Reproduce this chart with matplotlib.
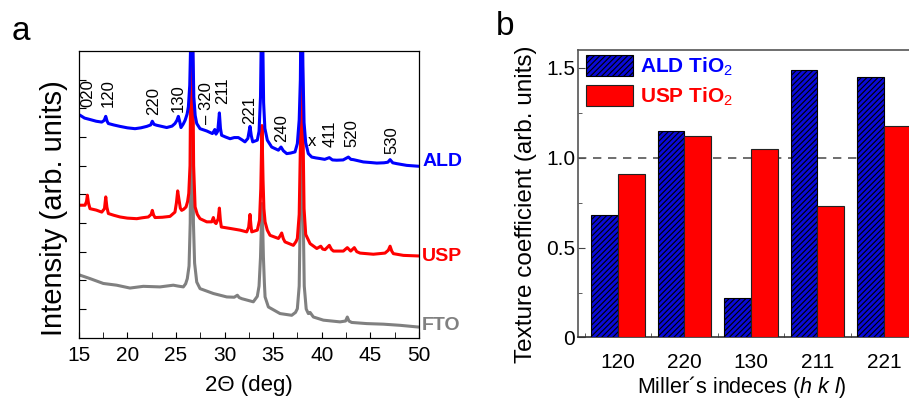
import matplotlib
matplotlib.use("Agg")
import matplotlib.pyplot as plt
import numpy as np

plt.rcParams['font.family'] = ['Liberation Sans', 'DejaVu Sans']
plt.rcParams['mathtext.fontset'] = 'custom'
plt.rcParams['mathtext.rm'] = 'Liberation Sans'
plt.rcParams['mathtext.it'] = 'Liberation Sans:italic'
plt.rcParams['mathtext.bf'] = 'Liberation Sans:bold'
plt.rcParams['hatch.linewidth'] = 0.8

# ---- panel a: XRD patterns (2theta in deg, intensity in arb. units) ----
ald_2theta = [15.00, 15.13, 15.60, 16.16, 16.80, 17.37, 17.62, 17.78, 17.92, 18.05, 18.60, 19.25,
              20.00, 20.79, 21.40, 22.00, 22.40, 22.57, 22.75, 23.02, 24.05, 24.60, 24.90, 25.10,
              25.25, 25.38, 25.52, 25.75, 25.94, 26.15, 26.28, 26.42, 26.53, 26.63, 26.73, 26.84,
              26.98, 27.14, 27.48, 28.17, 28.75, 28.90, 29.00, 29.12, 29.30, 29.47, 29.58, 29.70,
              30.10, 30.57, 31.00, 31.42, 31.80, 32.10, 32.40, 32.62, 32.75, 32.90, 33.37, 33.55,
              33.70, 33.78, 33.85, 33.93, 34.02, 34.15, 34.40, 34.85, 35.54, 35.81, 36.05, 36.40,
              36.80, 37.25, 37.49, 37.68, 37.80, 37.94, 38.06, 38.18, 38.35, 38.62, 38.97, 39.40,
              39.80, 40.30, 40.78, 41.10, 41.54, 42.20, 42.74, 43.00, 43.25, 44.28, 45.00, 45.66,
              46.40, 46.80, 47.03, 47.30, 47.72, 48.74, 49.94, 50.00]
ald_int = [7.78, 7.76, 7.66, 7.61, 7.55, 7.52, 7.58, 7.72, 7.55, 7.47, 7.42, 7.37,
           7.32, 7.29, 7.32, 7.37, 7.42, 7.55, 7.44, 7.41, 7.33, 7.38, 7.47, 7.58,
           7.72, 7.55, 7.33, 7.45, 7.58, 7.80, 8.05, 8.80, 10.5, 14.0, 10.5, 8.40,
           7.75, 7.47, 7.29, 7.21, 7.12, 7.20, 7.26, 7.10, 7.20, 7.84, 7.30, 7.06,
           7.00, 6.94, 6.98, 6.98, 6.90, 6.83, 6.95, 7.37, 7.05, 6.83, 6.89, 7.20,
           8.40, 10.5, 14.0, 10.5, 8.20, 7.30, 6.89, 6.65, 6.54, 6.65, 6.52, 6.42,
           6.44, 6.48, 6.77, 7.60, 9.00, 14.0, 9.50, 7.50, 6.80, 6.42, 6.30, 6.27,
           6.25, 6.22, 6.28, 6.20, 6.19, 6.20, 6.30, 6.22, 6.21, 6.13, 6.11, 6.09,
           6.10, 6.12, 6.21, 6.10, 6.07, 6.01, 5.98, 5.98]

usp_2theta = [15.00, 15.13, 15.65, 15.80, 15.89, 16.00, 16.16, 16.80, 17.37, 17.65, 17.78, 17.90,
              18.05, 18.60, 19.25, 20.00, 20.97, 21.50, 22.16, 22.45, 22.57, 22.70, 22.85, 23.60,
              24.39, 24.90, 25.05, 25.18, 25.32, 25.45, 25.59, 25.80, 26.04, 26.20, 26.32, 26.45,
              26.53, 26.63, 26.73, 26.82, 26.97, 27.20, 27.48, 28.17, 28.68, 28.85, 29.00, 29.13,
              29.35, 29.47, 29.57, 29.67, 30.57, 31.60, 32.28, 32.48, 32.62, 32.72, 32.80, 33.37,
              33.60, 33.73, 33.85, 33.96, 34.05, 34.17, 34.40, 34.68, 35.54, 35.72, 35.88, 36.05,
              36.22, 37.08, 37.35, 37.49, 37.68, 37.82, 37.94, 38.06, 38.18, 38.35, 38.80, 39.49,
              39.90, 40.10, 40.34, 40.78, 41.00, 41.20, 42.22, 42.63, 42.98, 43.35, 43.60, 43.94,
              45.31, 46.51, 46.85, 47.03, 47.20, 47.37, 48.40, 49.94, 50.00]
usp_int = [4.62, 4.62, 4.62, 4.75, 4.97, 4.70, 4.50, 4.45, 4.38, 4.50, 4.91, 4.55,
           4.33, 4.27, 4.21, 4.17, 4.15, 4.18, 4.21, 4.30, 4.44, 4.28, 4.19, 4.20,
           4.23, 4.38, 4.70, 5.12, 4.80, 4.52, 4.44, 4.48, 4.56, 4.75, 5.03, 6.00,
           9.50, 14.0, 9.50, 6.00, 4.56, 4.30, 4.15, 4.04, 4.04, 4.19, 4.02, 3.98,
           4.15, 4.52, 4.10, 3.86, 3.81, 3.75, 3.69, 3.85, 4.30, 3.90, 3.69, 3.75,
           4.10, 5.20, 7.40, 5.50, 4.50, 4.04, 3.75, 3.57, 3.46, 3.55, 3.65, 3.45,
           3.34, 3.22, 3.35, 3.46, 4.30, 7.00, 14.0, 7.50, 4.50, 3.60, 3.28, 3.11,
           3.19, 3.09, 3.07, 3.22, 3.08, 3.02, 3.02, 3.14, 3.02, 3.14, 3.00, 2.95,
           2.91, 2.95, 3.05, 3.19, 3.02, 2.93, 2.87, 2.85, 2.85]

fto_2theta = [15.00, 15.13, 16.16, 17.53, 18.90, 20.27, 21.64, 23.36, 24.73, 25.20, 25.76, 26.00,
              26.17, 26.35, 26.47, 26.55, 26.63, 26.71, 26.80, 26.92, 27.14, 27.48, 28.85, 30.23,
              31.00, 31.32, 31.50, 31.77, 32.96, 33.37, 33.55, 33.70, 33.78, 33.85, 33.93, 34.00,
              34.10, 34.17, 34.51, 35.71, 36.91, 37.30, 37.49, 37.68, 37.82, 37.94, 38.06, 38.20,
              38.40, 38.62, 38.80, 39.14, 40.17, 41.88, 42.45, 42.63, 42.80, 43.08, 44.63, 46.34,
              48.06, 49.94, 50.00]
fto_int = [2.20, 2.18, 2.06, 1.89, 1.83, 1.73, 1.79, 1.77, 1.83, 1.80, 1.77, 1.88,
           2.06, 2.50, 4.00, 8.00, 14.0, 8.00, 4.00, 2.60, 1.94, 1.71, 1.54, 1.42,
           1.41, 1.48, 1.40, 1.36, 1.25, 1.44, 1.80, 2.80, 3.80, 4.68, 3.80, 2.80,
           1.90, 1.42, 1.07, 0.84, 0.78, 0.88, 1.01, 1.80, 5.00, 14.0, 5.00, 1.80,
           1.00, 0.84, 0.88, 0.72, 0.61, 0.55, 0.58, 0.72, 0.58, 0.53, 0.49, 0.47,
           0.43, 0.37, 0.37]

# reflex labels: text, 2theta, bottom of label
peak_names = ['020', '120', '220', '130', '\u2013 320', '211', '221', '240', '411', '520', '530']
peak_pos = [15.96, 18.05, 22.75, 25.25, 28.17, 29.80, 32.62, 35.88, 40.85, 43.08, 47.20]
peak_lab_y = [8.04, 8.05, 7.76, 7.87, 7.47, 8.16, 7.47, 6.83, 6.65, 6.65, 6.42]

# ---- panel b: texture coefficients ----
hkl = ['120', '220', '130', '211', '221']
ald_tc = [0.68, 1.15, 0.22, 1.49, 1.45]
usp_tc = [0.91, 1.12, 1.05, 0.73, 1.175]

fig = plt.figure(figsize=(9.09, 4.01), dpi=100)
ax1 = fig.add_axes([0.0866, 0.158, 0.3743, 0.7148])
ax2 = fig.add_axes([0.6359, 0.1584, 0.3804, 0.7169])

ax1.plot(fto_2theta, fto_int, color='#808080', lw=2.2)
ax1.plot(usp_2theta, usp_int, color='#ff0000', lw=2.2)
ax1.plot(ald_2theta, ald_int, color='#0000ff', lw=2.2)
ax1.set_xlim(15, 50)
ax1.set_ylim(0, 10)
ax1.set_xticks(np.arange(15, 51, 5))
ax1.set_xticks(np.arange(17.5, 50, 5), minor=True)
ax1.set_yticks(np.arange(1, 10))
ax1.set_yticklabels([])
ax1.tick_params(axis='both', which='both', direction='in', labelsize=15)
ax1.tick_params(axis='x', which='both', length=4, pad=6)
ax1.tick_params(axis='y', length=5)
for s in ax1.spines.values():
    s.set_linewidth(0.9)
ax1.set_xlabel('2\u0398 (deg)', fontsize=16)
ax1.xaxis.set_label_coords(0.5, -0.13)
ax1.set_ylabel('Intensity (arb. units)', fontsize=21)
ax1.yaxis.set_label_coords(-0.031, 0.451)

for name, px, py in zip(peak_names, peak_pos, peak_lab_y):
    ax1.text(px, py, name, rotation=90, ha='center', va='bottom', fontsize=12)
ax1.text(39.03, 6.83, 'x', ha='center', va='center', fontsize=12)

ax1.text(50.32, 6.13, 'ALD', color='#0000ff', fontsize=14, fontweight='bold',
         ha='left', va='center', clip_on=False)
ax1.text(50.32, 2.84, 'USP', color='#ff0000', fontsize=14, fontweight='bold',
         ha='left', va='center', clip_on=False)
ax1.text(50.32, 0.43, 'FTO', color='#808080', fontsize=14, fontweight='bold',
         ha='left', va='center', clip_on=False)

x = np.arange(len(hkl))
ax2.bar(x - 0.2, ald_tc, width=0.4, color='#0a0ad8', edgecolor='#000000', hatch='//////',
        linewidth=0.8, label='ALD TiO$_2$', zorder=3)
ax2.bar(x + 0.2, usp_tc, width=0.4, color='#ff0000', edgecolor='#222222',
        linewidth=0.8, label='USP TiO$_2$', zorder=3)
ax2.axhline(1.0, color='#555555', lw=1.2, ls=(0, (5, 4)), zorder=2)
ax2.set_xlim(-0.6, 4.6)
ax2.set_ylim(0, 1.6)
ax2.set_xticks(x)
ax2.set_xticklabels(hkl)
ax2.set_xticks(np.arange(-0.5, 4.6, 1), minor=True)
ax2.set_yticks([0, 0.5, 1.0, 1.5])
ax2.set_yticklabels(['0', '0.5', '1.0', '1.5'])
ax2.set_yticks([0.25, 0.75, 1.25], minor=True)
ax2.tick_params(axis='both', which='both', direction='in', labelsize=15, color='#444444')
ax2.tick_params(axis='x', which='major', length=0, pad=11)
ax2.tick_params(axis='x', which='minor', length=3)
ax2.tick_params(axis='y', which='major', length=5, pad=2)
ax2.tick_params(axis='y', which='minor', length=3)
for s in ax2.spines.values():
    s.set_linewidth(1.2)
    s.set_color('#555555')
ax2.spines['bottom'].set_color('#333333')
ax2.set_xlabel('Miller\u00b4s indeces ($h$ $k$ $l$)', fontsize=15.5)
ax2.xaxis.set_label_coords(0.473, -0.128)
ax2.set_ylabel('Texture coefficient (arb. units)', fontsize=17.5)
ax2.yaxis.set_label_coords(-0.119, 0.463)

leg = ax2.legend(loc='upper left', bbox_to_anchor=(0.023, 0.983), frameon=False,
                 handlelength=2.26, handleheight=1.15, labelspacing=0.35,
                 handletextpad=0.34, borderpad=0, borderaxespad=0,
                 prop={'weight': 'bold', 'size': 15})
leg.get_texts()[0].set_color('#0000ff')
leg.get_texts()[1].set_color('#ff0000')

fig.text(0.013, 0.90, 'a', fontsize=24, va='baseline')
fig.text(0.545, 0.913, 'b', fontsize=24, va='baseline')

fig.savefig('out.png', dpi=100)
